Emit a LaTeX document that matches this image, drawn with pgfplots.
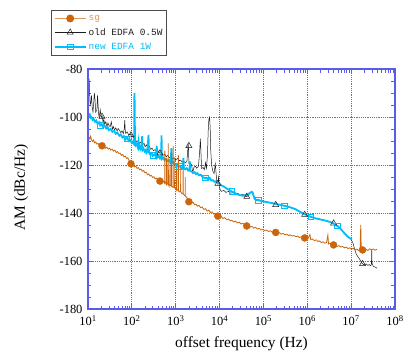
\documentclass[border=0pt]{standalone}
\usepackage{pgfplots}
\pgfplotsset{compat=1.18}
\usepackage{fontspec}
\setmainfont{Liberation Serif}
\newfontfamily\legendfont{Liberation Mono}
\definecolor{sgc}{RGB}{204,100,10}
\definecolor{sgl}{RGB}{225,150,90}
\definecolor{oldc}{RGB}{30,30,30}
\definecolor{newc}{RGB}{0,190,250}
\definecolor{axc}{RGB}{90,90,235}
\definecolor{gridc}{RGB}{100,100,240}
\tikzset{mygrid/.style={gridc, dash pattern=on 1.2bp off 1bp, line width=1bp}}
\begin{document}
\begin{tikzpicture}
\begin{axis}[
  scale only axis, width=307bp, height=240bp,
  xmode=log, xmin=10, xmax=1e8, ymin=-180, ymax=-80,
  xtick={1e1,1e2,1e3,1e4,1e5,1e6,1e7,1e8},
  xticklabels={10\textsuperscript{1},10\textsuperscript{2},10\textsuperscript{3},10\textsuperscript{4},10\textsuperscript{5},10\textsuperscript{6},10\textsuperscript{7},10\textsuperscript{8}},
  ytick={-180,-160,-140,-120,-100,-80},
  yticklabels={-180,-160,-140,-120,-100,-80},
  minor ytick={-175,-170,-165,-155,-150,-145,-135,-130,-125,-115,-110,-105,-95,-90,-85},
  tick align=inside,
  major tick length=5bp, minor tick length=3.5bp,
  every tick/.style={draw=axc, line width=0.8bp},
  axis line style={draw=none},
  tick label style={font=\fontsize{12.5}{13}\selectfont},
  xticklabel style={yshift=-3bp},
  yticklabel style={xshift=-2bp},
  xlabel={offset frequency (Hz)},
  ylabel={AM (dBc/Hz)},
  label style={font=\fontsize{15.5}{16}\selectfont},
  xlabel style={at={(rel axis cs:0.5,-0.145)}, anchor=center},
  ylabel style={at={(rel axis cs:-0.218,0.506)}, anchor=center},
  legend style={at={(rel axis cs:-0.1205,1.2458)}, anchor=north west,
    draw=black!70, line width=1.4bp, fill=white, font=\fontsize{9.5}{11}\legendfont,
    inner xsep=2bp, inner ysep=2.5bp, row sep=2.5bp, legend cell align=left},
  legend image code/.code={\draw[mark repeat=2,mark phase=2,#1] plot coordinates {(0cm,0cm) (0.55cm,0cm) (1.1cm,0cm)};},
]
\coordinate (bbsw) at (rel axis cs:-0.2866,-0.1792);
\coordinate (bbne) at (rel axis cs:1.0261,1.2875);
\coordinate (ax00) at (rel axis cs:0,0);
\coordinate (ax11) at (rel axis cs:1,1);

% grid lines (behind the data)
\pgfplotsinvokeforeach{100,1000,10000,100000,1000000,10000000}{
  \draw[mygrid] (axis cs:#1,-180) -- (axis cs:#1,-80);
}
\pgfplotsinvokeforeach{-160,-140,-120,-100}{
  \draw[mygrid] (axis cs:10,#1) -- (axis cs:1e8,#1);
}

\addlegendimage{sgl, line width=0.9bp, mark=*, mark size=3.5bp, mark options={sgc}}
\addlegendentry{\textcolor{sgl}{sg}}
\addlegendimage{oldc, line width=0.5bp, mark=triangle, mark size=3.5bp, mark options={oldc, line width=0.5bp}}
\addlegendentry{\textcolor{oldc}{old EDFA 0.5W}}
\addlegendimage{newc, line width=1.8bp, mark=square, mark size=2.8bp, mark options={newc, line width=0.6bp}}
\addlegendentry{\textcolor{newc}{new EDFA 1W}}

% old EDFA 0.5W
\addplot[oldc, line width=0.5bp, forget plot] coordinates {
(10,-92) (10.3,-86) (10.6,-84) (10.9,-90) (11.2,-95) (11.6,-94) (12,-91) (12.5,-96) (13,-98) (13.5,-94)
(14,-90) (14.5,-93) (15,-98) (16,-97) (16.5,-91) (17,-95) (17.5,-99) (18,-100) (19,-97) (20,-100)
(21,-99.5) (22,-102) (23,-101) (24,-103) (25.5,-102) (27,-104) (28.5,-102.5) (30,-103.5) (32,-104) (34,-102)
(36,-105) (38,-104) (40,-105.5) (43,-104.5) (46,-105.8) (49,-104.8) (52,-105.5) (56,-106.5) (60,-105.8) (64,-107)
(67,-105) (69,-101.3) (71,-106) (72,-106.8) (78,-106.2) (85,-107.5) (92,-107) (100,-108.3) (106,-107.8) (112,-109)
(120,-109.5) (130,-110.3) (140,-109.8) (150,-111) (160,-110.5) (175,-111.5) (190,-111) (200,-112.4) (215,-111.6) (230,-112.8)
(250,-112.2) (270,-113.5) (290,-113) (310,-114) (340,-113.6) (370,-114.5) (400,-114.1) (437,-115.1) (470,-114.8) (510,-116)
(560,-115.5) (610,-116.5) (660,-116) (720,-117) (780,-116.6) (850,-117.5) (920,-117) (1000,-117.8) (1100,-117.3) (1200,-118.2)
(1300,-118) (1400,-118.8) (1500,-118.4) (1650,-119) (1800,-118.6) (1880,-114) (1920,-111) (1960,-113) (2000,-119.5) (2150,-119.2)
(2300,-120) (2450,-123.2) (2600,-121) (2800,-120.5) (3000,-121.3) (3300,-120.6) (3500,-115) (3650,-109) (3750,-114) (3900,-121.5)
(4200,-121) (4500,-122) (4800,-119) (5000,-121.8) (5300,-116) (5500,-106) (5700,-101) (5900,-100) (6100,-104) (6300,-114)
(6600,-120) (7000,-122.5) (7500,-123.5) (8000,-119.5) (8300,-123) (8700,-127.4) (9100,-128) (9500,-125) (10000,-129.5) (10500,-130.5)
(11000,-131) (12500,-130.6) (14000,-131.4) (16000,-131) (18000,-131.8) (20000,-131.4) (23000,-132.2) (26000,-131.8) (30000,-132.6) (34000,-132.2)
(38000,-133) (41700,-133.2) (45000,-132.6) (50000,-131.5) (54000,-131) (57000,-131.4) (60000,-133) (65000,-134.2) (75000,-134.4) (90000,-134.8)
(1.1e5,-135.2) (1.4e5,-135.6) (1.9e5,-136.2) (2.5e5,-136.6) (3.2e5,-137) (4e5,-137.5) (5e5,-138.1) (6.5e5,-139.2) (8.7e5,-140.6) (1.1e6,-141.3)
(1.5e6,-142.1) (2e6,-142.6) (3e6,-143.4) (4e6,-144.3) (5e6,-145.4) (6e6,-146.8) (7e6,-148.2) (8e6,-149.4) (9e6,-150.3) (1e7,-151)
(1.1e7,-152.5) (1.2e7,-155) (1.3e7,-157) (1.4e7,-158) (1.5e7,-158.8) (1.6e7,-159.5) (1.7e7,-160.5) (1.82e7,-161.2) (2e7,-161.6) (2.2e7,-161.2)
(2.4e7,-161.8) (2.6e7,-161.5) (2.8e7,-162) (2.9e7,-161.3) (2.95e7,-155.5) (3e7,-161) (3.2e7,-162.2) (3.5e7,-162.5) (3.9e7,-163)
};
\addplot[oldc, only marks, mark=triangle, mark size=3.5bp, mark options={line width=0.5bp}, forget plot] coordinates {
(20.9,-99.8) (95.5,-107.6) (437,-115.1) (1995,-112) (9120,-127.8) (41700,-133.2) (1.905e5,-136.6) (8.71e5,-140.7) (3.98e6,-144.3) (1.82e7,-161.2)
};

% new EDFA 1W
\addplot[newc, line width=1.8bp, forget plot] coordinates {
(10,-98.5) (10.5,-99.5) (11,-99) (11.5,-100.3) (12,-100) (12.8,-101.2) (13.5,-100.8) (14.5,-102) (15.5,-101.5) (16.5,-102.8)
(18,-102.2) (19,-103.5) (20.5,-103) (22,-104.2) (24,-103.6) (26,-104.8) (28,-104.3) (30,-105.5) (33,-105) (36,-106.2)
(40,-105.8) (43,-107) (47,-106.5) (52,-107.8) (56,-107.3) (61,-108.5) (66,-108) (72,-109.3) (78,-108.6) (85,-110)
(92,-109.6) (100,-110.8) (105,-110.3) (110,-111) (113,-109) (114,-92) (115,-90) (116,-95) (118,-111) (122,-111.8)
(128,-111.2) (135,-112.4) (142,-110) (145,-112.8) (150,-112.2) (158,-113.5) (165,-113) (172,-108) (175,-113.8) (185,-113.2)
(195,-114.3) (205,-113.8) (215,-115) (225,-114.5) (240,-107.5) (245,-114.8) (260,-115.5) (280,-115) (300,-116.2) (330,-115.6)
(355,-116.6) (370,-112) (380,-116.9) (410,-116.3) (440,-117.3) (465,-116.8) (475,-107.7) (485,-117.5) (520,-117) (560,-118)
(600,-117.5) (650,-118.4) (700,-118) (760,-119) (800,-113) (820,-119.2) (880,-118.8) (950,-119.8) (1000,-120.2) (1080,-119.8)
(1170,-120.8) (1260,-120.4) (1360,-121.3) (1470,-120.9) (1500,-117) (1540,-121.4) (1650,-121.8) (1780,-121.3) (1920,-122.3) (2070,-121.9)
(2100,-118.5) (2140,-122.5) (2300,-122.7) (2500,-123.3) (2700,-123) (2900,-123.8) (3100,-123.4) (3400,-124.3) (3700,-124) (4000,-124.8)
(4300,-125.2) (4700,-125.5) (5100,-125.3) (5500,-126) (6000,-125.4) (6500,-126.5) (7000,-126.3) (7600,-127) (8200,-126.8) (9000,-127.5)
(10000,-127.8) (11000,-128.5) (12500,-129) (14000,-129.6) (16000,-130.2) (18000,-130.8) (20000,-131.2) (23000,-131.8) (26000,-132.3) (30000,-132.6)
(34000,-132.8) (38000,-132.6) (42000,-132.4) (46000,-132) (50000,-131.6) (54000,-131.2) (57000,-131.6) (60000,-133) (64000,-134.3) (70000,-134.6)
(80000,-134.8) (90000,-135) (1e5,-135.2) (1.2e5,-135.5) (1.5e5,-135.8) (1.9e5,-136.2) (2.4e5,-136.6) (3e5,-137) (3.7e5,-137.4) (4.5e5,-137.9)
(5.5e5,-138.5) (6.5e5,-139.3) (8e5,-140.2) (1e6,-141) (1.2e6,-141.6) (1.5e6,-142.2) (2e6,-142.7) (2.5e6,-143.1) (3e6,-143.5) (3.5e6,-143.9)
(4e6,-144.4) (4.5e6,-145) (5e6,-145.6) (5.5e6,-146.3) (6e6,-147) (7e6,-148.4) (8e6,-149.5) (9e6,-150.3) (1e7,-150.8) (1.05e7,-151)
};
\addplot[newc, only marks, mark=square, mark size=2.8bp, mark options={line width=0.6bp}, forget plot] coordinates {
(19,-103.5) (76,-109) (302,-116) (1200,-120.6) (4790,-125.4) (19000,-131) (76000,-134.7) (3.02e5,-137) (1.2e6,-141.6) (4.8e6,-145.4)
};

% sg
\addplot[sgc, line width=0.8bp, forget plot] coordinates {
(10,-109.5) (10.5,-108.5) (11,-109.2) (11.5,-108) (12,-109.5) (12.7,-110.2) (13.4,-109.6) (14.2,-110.8) (15,-110.4) (16,-111.3)
(17,-111) (18,-111.8) (19,-111.4) (20.9,-112) (22,-112.4) (23.5,-112) (25,-113) (27,-112.6) (29,-113.4) (31,-113)
(33,-113.8) (35.5,-113.4) (38,-114.2) (41,-113.8) (44,-114.8) (47,-114.4) (50,-115.2) (54,-115) (58,-116) (62,-115.6)
(66,-116.6) (71,-116.3) (76,-117.3) (81,-117) (87,-118.2) (95.5,-119.5) (102,-120) (108,-119.8) (115,-120.8) (123,-120.5)
(132,-121.4) (141,-121.1) (151,-122) (162,-121.7) (173,-122.6) (185,-122.3) (198,-123.2) (212,-123) (227,-124) (243,-123.7)
(260,-124.6) (278,-124.3) (298,-125.2) (319,-124.9) (341,-125.8) (365,-125.5) (390,-126.3) (437,-126.7) (470,-126.5) (500,-127.2)
(530,-126.8) (560,-127.6) (566,-114) (572,-127.4) (590,-127.2) (615,-128) (620,-117) (625,-127.8) (650,-127.6) (670,-128.3)
(676,-111) (682,-128.4) (720,-128.2) (735,-128.8) (740,-119) (745,-128.6) (795,-128.4) (800,-115) (805,-128.9) (850,-129.2)
(870,-129) (875,-112) (880,-129.3) (945,-129.4) (950,-117) (955,-129.6) (1000,-129.8) (1045,-130.4) (1050,-120) (1055,-130.6)
(1100,-130.4) (1145,-130.6) (1150,-116) (1155,-130.8) (1220,-131.2) (1295,-131) (1300,-121) (1305,-131.2) (1400,-132) (1475,-131.8)
(1480,-118.6) (1485,-132) (1600,-132.8) (1645,-132.6) (1650,-125) (1655,-132.9) (1800,-133.6) (1995,-135.3) (2150,-135) (2300,-136)
(2500,-135.6) (2700,-136.6) (2900,-136.3) (3100,-137.2) (3400,-136.8) (3700,-137.8) (4000,-137.5) (4400,-138.5) (4800,-138.2) (5200,-139.2)
(5700,-138.8) (6200,-139.8) (6800,-139.5) (7400,-140.5) (8000,-140.2) (9120,-141.3) (10000,-141.8) (11000,-141.5) (12000,-142.3) (13000,-141.9)
(14500,-142.8) (16000,-142.5) (17500,-143.3) (19000,-143) (21000,-143.7) (23000,-143.4) (25500,-144.1) (28000,-143.8) (31000,-144.6) (34000,-144.3)
(37500,-145) (41700,-145.4) (46000,-145.2) (50000,-145.9) (55000,-145.6) (60000,-146.3) (66000,-146) (73000,-146.7) (80000,-146.4) (88000,-147.1)
(97000,-146.8) (1.07e5,-147.3) (1.18e5,-147.1) (1.3e5,-147.7) (1.43e5,-147.4) (1.58e5,-148) (1.74e5,-147.8) (1.905e5,-148.1) (2.1e5,-148.5) (2.3e5,-148.2)
(2.55e5,-148.8) (2.8e5,-148.5) (3.1e5,-149.1) (3.4e5,-148.8) (3.75e5,-149.4) (4.1e5,-149.1) (4.5e5,-149.6) (5e5,-149.4) (5.5e5,-149.9) (6e5,-149.6)
(6.6e5,-150.2) (7.3e5,-149.9) (8e5,-150.5) (8.71e5,-150.4) (9.5e5,-150.8) (1.05e6,-150.5) (1.15e6,-149) (1.2e6,-151.1) (1.3e6,-150.8) (1.45e6,-151.5)
(1.6e6,-151.2) (1.75e6,-151.9) (1.9e6,-151.6) (2.1e6,-152.3) (2.3e6,-152) (2.5e6,-152.6) (2.75e6,-152.3) (2.95e6,-149.2) (3.05e6,-152.9) (3.3e6,-152.6)
(3.6e6,-153.2) (3.98e6,-153.3) (4.4e6,-153.5) (4.8e6,-153.9) (5.3e6,-153.6) (5.8e6,-154.2) (6.4e6,-153.9) (7e6,-154.5) (7.7e6,-154.2) (8.5e6,-154.8)
(9.3e6,-154.5) (1.02e7,-155.1) (1.12e7,-154.7) (1.23e7,-155.4) (1.35e7,-155) (1.48e7,-155.6) (1.6e7,-155.2) (1.66e7,-145) (1.7e7,-155.5) (1.82e7,-155.4)
(2e7,-155.8) (2.2e7,-155.2) (2.4e7,-155.6) (2.65e7,-154.9) (2.9e7,-155.4) (3.2e7,-155) (3.5e7,-155.5) (3.9e7,-155.1)
};
\addplot[sgc, only marks, mark=*, mark size=3.5bp, forget plot] coordinates {
(20.9,-112) (95.5,-119.5) (437,-126.7) (1995,-135.3) (9120,-141.3) (41700,-145.4) (1.905e5,-148.1) (8.71e5,-150.4) (3.98e6,-153.3) (1.82e7,-155.4)
};
\end{axis}
\draw[axc, line width=1.5bp] (ax00) rectangle (ax11);
\pgfresetboundingbox
\path (bbsw) rectangle (bbne);
\end{tikzpicture}
\end{document}
